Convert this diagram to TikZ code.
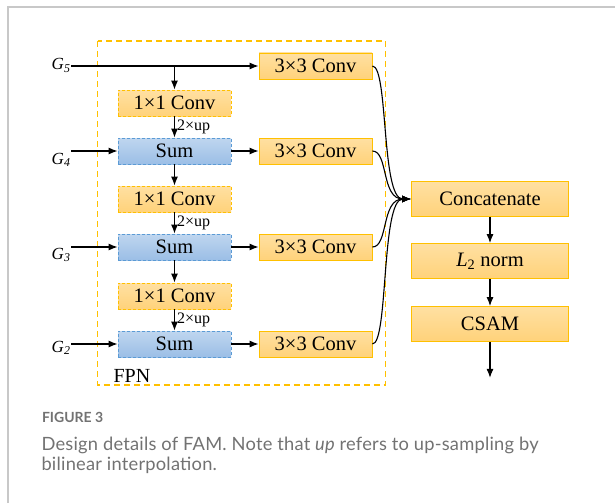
\documentclass[tikz,border=0pt]{standalone}
\usepackage{fontspec}
\setmainfont{Liberation Serif}
\newfontfamily\capfont{Lato}
\usetikzlibrary{arrows.meta,positioning}

\definecolor{convtop}{HTML}{FFE0A2}
\definecolor{convbot}{HTML}{FFD27A}
\definecolor{convline}{HTML}{FFC000}
\definecolor{sumtop}{HTML}{BFD6EF}
\definecolor{sumbot}{HTML}{9BBEE6}
\definecolor{sumline}{HTML}{5B9BD5}
\definecolor{capgray}{HTML}{727272}
\definecolor{framegray}{HTML}{C8C8C8}

\begin{document}
\begin{tikzpicture}[x=1pt,y=-1pt,>={Latex[length=9pt,width=7pt]},line width=1.1pt,node distance=48pt]
\tikzstyle{conv}=[draw=convline,line width=0.8pt,top color=convtop,bottom color=convbot,minimum width=113pt,minimum height=26pt,inner sep=0pt,font=\fontsize{20.5}{24}\selectfont]
\tikzstyle{lateral}=[conv,dash pattern=on 3pt off 2pt]
\tikzstyle{sum}=[lateral,draw=sumline,top color=sumtop,bottom color=sumbot]
\tikzstyle{head}=[conv,minimum width=157pt,minimum height=35pt]
\tikzstyle{inlbl}=[anchor=base east,inner sep=0pt,font=\fontsize{17}{20}\selectfont\itshape]
\tikzstyle{uplbl}=[right,inner sep=2pt,font=\fontsize{16}{18}\selectfont]
\tikzstyle{captxt}=[anchor=base west,inner sep=0pt,text=capgray,font=\capfont\fontsize{18.3}{20}\selectfont\addfontfeature{LetterSpace=1.2}]

\useasboundingbox (0,0) rectangle (615,503);
\draw[framegray,line width=2pt] (7.5,503) -- (7.5,7.5) -- (615,7.5);

% FPN part
\draw[convline,line width=1.8pt,dash pattern=on 6pt off 4pt] (97.5,41) rectangle (385.5,385);
\node[anchor=base west,inner sep=0pt,font=\fontsize{20}{24}\selectfont] (fpn) at (113,382) {FPN};

\node[lateral] (c5) at (174.5,103) {1×1 Conv};
\node[sum,below of=c5] (s4) {Sum};
\node[lateral,below of=s4] (c4) {1×1 Conv};
\node[sum,below of=c4] (s3) {Sum};
\node[lateral,below of=s3,node distance=49pt] (c3) {1×1 Conv};
\node[sum,below of=c3] (s2) {Sum};

\node[conv] (k5) at (315.5,66) {3×3 Conv};
\node[conv,right of=s4,node distance=141pt] (k4) {3×3 Conv};
\node[conv,right of=s3,node distance=141pt] (k3) {3×3 Conv};
\node[conv,right of=s2,node distance=141pt] (k2) {3×3 Conv};

\node[inlbl] (g5) at (71,70) {G\textsubscript{5}};
\node[inlbl] (g4) at (71,164) {G\textsubscript{4}};
\node[inlbl] (g3) at (71,259) {G\textsubscript{3}};
\node[inlbl] (g2) at (71,352) {G\textsubscript{2}};

\draw[->] (g5.east |- k5) -- (k5);
\draw[->] (c5 |- k5) -- (c5);
\draw[->] (c5) -- node[uplbl] {2×up} (s4);
\draw[->] (c4) -- node[uplbl] {2×up} (s3);
\draw[->] (c3) -- node[uplbl] {2×up} (s2);
\draw[->] (s4) -- (c4);
\draw[->] (s3) -- (c3);
\draw[->] (g4.east |- s4) -- (s4);
\draw[->] (g3.east |- s3) -- (s3);
\draw[->] (g2.east |- s2) -- (s2);
\draw[->] (s4) -- (k4);
\draw[->] (s3) -- (k3);
\draw[->] (s2) -- (k2);

% head
\node[head] (cat) at (490,199) {Concatenate};
\node[head,below of=cat,node distance=62pt] (l2) {\textit{L}\textsubscript{2} norm};
\node[head,below of=l2,node distance=63pt] (csam) {CSAM};
\coordinate[below=36pt of csam] (out);

\foreach \k in {k5,k4,k3,k2}
  \draw[->] (\k.east) .. controls +(16,0) and +(-30,0) .. (cat.west);
\draw[->] (cat) -- (l2);
\draw[->] (l2) -- (csam);
\draw[->] (csam) -- (out);

% caption
\node[anchor=base west,inner sep=0pt,text=capgray,font=\capfont\bfseries\fontsize{14}{16}\selectfont] (fig) at (41.5,422) {FIGURE 3};
\node[captxt] (cap1) at (41,450) {Design details of FAM. Note that {\itshape up} refers to up-sampling by};
\node[captxt] (cap2) at (41,470.5) {bilinear interpolation.};
\end{tikzpicture}
\end{document}
